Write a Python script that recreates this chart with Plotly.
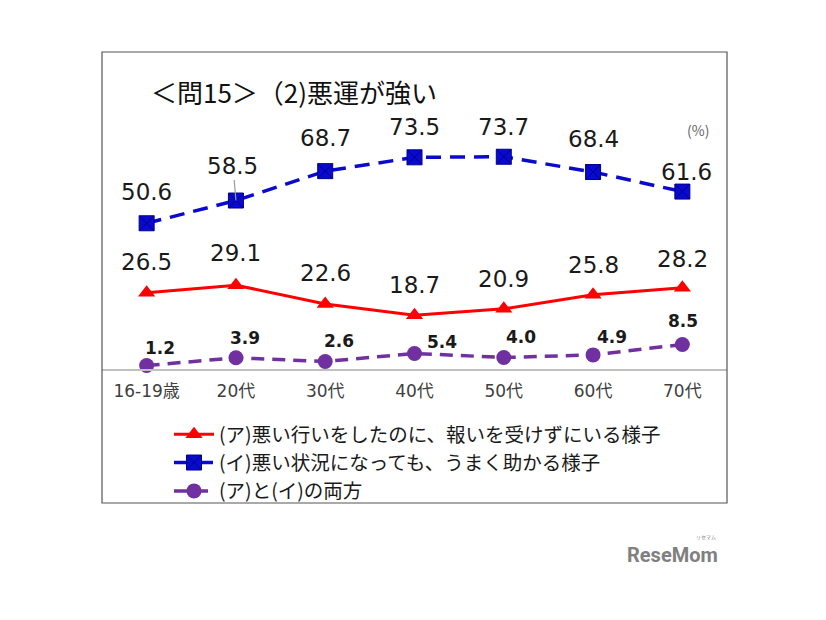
import plotly.graph_objects as go

categories = ["16-19歳", "20代", "30代", "40代", "50代", "60代", "70代"]
red_vals = [26.5, 29.1, 22.6, 18.7, 20.9, 25.8, 28.2]
blue_vals = [50.6, 58.5, 68.7, 73.5, 73.7, 68.4, 61.6]
purple_vals = [1.2, 3.9, 2.6, 5.4, 4.0, 4.9, 8.5]

red_name = "(ア)悪い行いをしたのに、報いを受けずにいる様子"
blue_name = "(イ)悪い状況になっても、うまく助かる様子"
purple_name = "(ア)と(イ)の両方"
title_text = "＜問15＞（2)悪運が強い"

JP = "Noto Sans CJK JP"
NUM = "DejaVu Sans, Noto Sans CJK JP"
RED = "#FF0000"
BLUE = "#0A0ACF"
PURPLE = "#7030A0"

# figure geometry (page offset of 8px body margin compensated)
W, H = 818, 612
L, R, T, B = 94, 99, 73, 251
PW, PH = W - L - R, H - T - B
OFF = 8
def px(xpage):
    return (xpage - OFF - L) / PW
def py(ypage):
    return (H - B - (ypage - OFF)) / PH

fig = go.Figure()
fig.add_trace(go.Scatter(x=categories, y=red_vals, name=red_name, mode="lines+markers",
                         line=dict(color=RED, width=3),
                         marker=dict(symbol="triangle-up", size=15, color=RED),
                         cliponaxis=False))
fig.add_trace(go.Scatter(x=categories, y=blue_vals, name=blue_name, mode="lines+markers",
                         line=dict(color=BLUE, width=3.5, dash="15px,9px"),
                         marker=dict(symbol="square-x", size=15, color=BLUE,
                                     line=dict(color="#00008B", width=1)),
                         cliponaxis=False))
fig.add_trace(go.Scatter(x=categories, y=purple_vals, name=purple_name, mode="lines+markers",
                         line=dict(color=PURPLE, width=3.5, dash="13px,8px"),
                         marker=dict(symbol="circle", size=15, color=PURPLE),
                         cliponaxis=False))

annotations = []
red_ay = [-31, -32, -31, -30, -30, -30, -29]
blue_ay = [-31, -35, -33, -30, -30, -33, -20]
blue_ax = [0, -3, 0, 0, 0, 0, 4]
purple_ay = [-18, -20, -21, -11, -20, -18, -24]
purple_ax = [13, 9, 14, 27, 17, 19, 1]

for i, c in enumerate(categories):
    annotations.append(dict(x=c, y=red_vals[i], xref="x", yref="y", text=f"{red_vals[i]:.1f}",
                            showarrow=True, arrowcolor="rgba(0,0,0,0)", ax=0, ay=red_ay[i],
                            font=dict(family=NUM, size=23, color="#1a1a1a")))
    annotations.append(dict(x=c, y=blue_vals[i], xref="x", yref="y", text=f"{blue_vals[i]:.1f}",
                            showarrow=True,
                            arrowcolor="#9a9a9a" if i == 1 else "rgba(0,0,0,0)",
                            arrowhead=0, arrowwidth=1.2, standoff=0,
                            ax=blue_ax[i], ay=blue_ay[i],
                            font=dict(family=NUM, size=23, color="#1a1a1a")))
    annotations.append(dict(x=c, y=purple_vals[i], xref="x", yref="y", text=f"<b>{purple_vals[i]:.1f}</b>",
                            showarrow=True, arrowcolor="rgba(0,0,0,0)", ax=purple_ax[i], ay=purple_ay[i],
                            font=dict(family=NUM, size=17, color="#1a1a1a")))

annotations.append(dict(x=px(149), y=py(91), xref="paper", yref="paper", text=title_text, showarrow=False,
                        xanchor="left", yanchor="middle",
                        font=dict(family=JP, size=26, color="#111111")))
annotations.append(dict(x=px(698), y=py(130), xref="paper", yref="paper", text="(%)", showarrow=False,
                        xanchor="center", yanchor="middle",
                        font=dict(family=JP, size=14, color="#666666")))
annotations.append(dict(x=px(672), y=py(555), xref="paper", yref="paper", text="<b>ReseMom</b>", showarrow=False,
                        xanchor="center", yanchor="middle",
                        font=dict(family="Roboto", size=20, color="#808080")))
annotations.append(dict(x=px(706), y=py(537), xref="paper", yref="paper", text="リセマム", showarrow=False,
                        xanchor="center", yanchor="middle",
                        font=dict(family=JP, size=5, color="#808080")))

fig.update_layout(
    width=W, height=H,
    margin=dict(l=L, r=R, t=T, b=B),
    paper_bgcolor="white", plot_bgcolor="white",
    showlegend=True,
    legend=dict(x=px(169), y=py(415), xanchor="left", yanchor="top",
                font=dict(family=JP, size=19.5, color="#1a1a1a"),
                bgcolor="rgba(0,0,0,0)", itemwidth=40),
    xaxis=dict(showgrid=False, showline=True, linecolor="#c0c0c0", linewidth=1.5,
               tickfont=dict(family=NUM, size=17, color="#404040"), ticks="",
               ticklabelstandoff=6,
               range=[-0.5, 6.5], fixedrange=True),
    yaxis=dict(range=[0, 100], visible=False, showgrid=False, zeroline=False),
    annotations=annotations,
    shapes=[dict(type="rect", xref="paper", yref="paper", x0=px(102), x1=px(727),
                 y0=py(503), y1=py(52), line=dict(color="#555555", width=1.2))],
)

fig.write_html("out.html")
